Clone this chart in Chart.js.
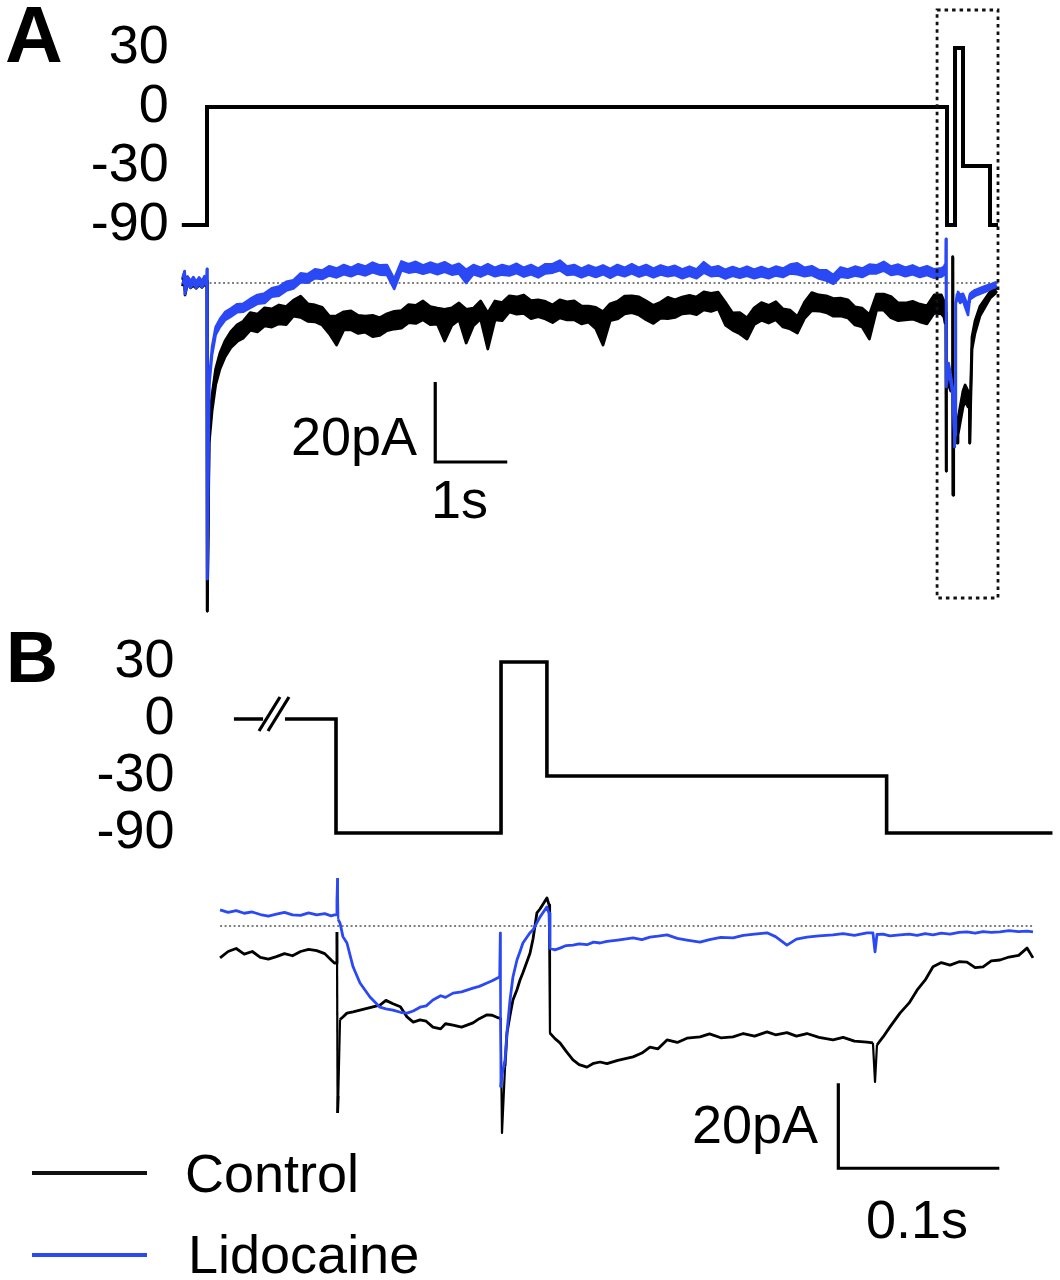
<!DOCTYPE html>
<html>
<head>
<meta charset="utf-8">
<script src="https://cdn.jsdelivr.net/npm/chart.js@4.4.1/dist/chart.umd.min.js"></script>
<style>
html,body{margin:0;padding:0;background:#fff;}
#wrap{position:relative;width:1060px;height:1280px;overflow:hidden;background:#fff;font-family:'Liberation Sans',Arial,Helvetica,sans-serif;color:#000;}
#wrap canvas{position:absolute;left:0;top:0;}
.t{position:absolute;font-size:54px;line-height:54px;white-space:nowrap;}
.p{position:absolute;font-weight:bold;white-space:nowrap;}
.leg{position:absolute;height:4px;width:115px;left:32px;}
#brk{position:absolute;left:0;top:0;}
</style>
</head>
<body>
<div id="wrap">
  <canvas id="aV" width="1060" height="1280"></canvas>
  <canvas id="aI" width="1060" height="1280"></canvas>
  <canvas id="bV" width="1060" height="1280"></canvas>
  <canvas id="bI" width="1060" height="1280"></canvas>
  <svg id="brk" width="1060" height="1280"><line x1="259" y1="731" x2="280" y2="697" stroke="#000" stroke-width="3.2"/><line x1="268" y1="731" x2="289" y2="697" stroke="#000" stroke-width="3.2"/></svg>

  <div class="p" style="left:5px;top:-5px;font-size:80px;line-height:80px;">A</div>
  <div class="p" style="left:6px;top:621px;font-size:72px;line-height:72px;">B</div>

  <div class="t" style="right:643px;top:409px;">20pA</div>
  <div class="t" style="left:431px;top:472px;">1s</div>
  <div class="t" style="right:242px;top:1097px;">20pA</div>
  <div class="t" style="left:866px;top:1192px;">0.1s</div>

  <div class="leg" style="top:1171px;background:#111;"></div>
  <div class="t" style="left:185px;top:1146px;">Control</div>
  <div class="leg" style="top:1253px;background:rgb(43,72,245);"></div>
  <div class="t" style="left:188px;top:1227px;">Lidocaine</div>
</div>

<script>
// ===================== DATA =====================
// Panel A – voltage protocol (time in s, level in mV, schematic levels)
const voltLevels = ['30', '0', '-30', '-90'];
const aVoltTime  = [-0.35, 0, 0, 10.278, 10.278, 10.389, 10.389, 10.5, 10.5, 10.875, 10.875, 10.986];
const aVoltValue = ['-90', '-90', '0', '0', '-90', '-90', '30', '30', '-30', '-30', '-90', '-90'];

// Panel A – currents, shown as max/min envelope per display bin (time in s, current in pA)
const aTime = [
  -0.34, -0.31, -0.305, -0.27, -0.23, -0.19, -0.15, -0.11, -0.07, -0.035, -0.005,
  0, 0.004, 0.03, 0.07, 0.12, 0.18, 0.25, 0.33, 0.42, 0.5,
  0.6, 0.7, 0.8, 0.9, 1.0, 1.1, 1.2, 1.3, 1.4, 1.5,
  1.6, 1.7, 1.8, 1.9, 2.0, 2.1, 2.2, 2.3, 2.4, 2.5,
  2.6, 2.7, 2.8, 2.9, 3.0, 3.1, 3.2, 3.3, 3.4, 3.5,
  3.6, 3.7, 3.8, 3.9, 4.0, 4.1, 4.2, 4.3, 4.4, 4.5,
  4.6, 4.7, 4.8, 4.9, 5.0, 5.1, 5.2, 5.3, 5.4, 5.5,
  5.6, 5.7, 5.8, 5.9, 6.0, 6.1, 6.2, 6.3, 6.4, 6.5,
  6.6, 6.7, 6.8, 6.9, 7.0, 7.1, 7.2, 7.3, 7.4, 7.5,
  7.6, 7.7, 7.8, 7.9, 8.0, 8.1, 8.2, 8.3, 8.4, 8.5,
  8.6, 8.7, 8.8, 8.9, 9.0, 9.1, 9.2, 9.3, 9.4, 9.5,
  9.6, 9.7, 9.8, 9.9, 10.0, 10.1, 10.2,
  10.236, 10.25, 10.262, 10.264, 10.266, 10.27, 10.3, 10.33, 10.355, 10.358,
  10.362, 10.37, 10.385, 10.39, 10.4, 10.417, 10.43, 10.46, 10.5, 10.53,
  10.57, 10.59, 10.594, 10.6, 10.625, 10.667, 10.736, 10.806, 10.875, 10.944, 10.97
];
const aControlMax = [
  0.8, 2.8, -1.8, 1.5, 0.5, 1.0, 0.3, 0.9, 0.2, 1.0, 0.4,
  0.5, -82, -35, -28, -21.5, -17.5, -14.5, -12.2, -10.4, -9.6,
  -7.4, -7.8, -6.2, -6.5, -5.5, -5.9, -4.3, -3.3, -5.2, -5.5,
  -6.1, -8.3, -8.2, -7.2, -7.0, -8.1, -8.3, -8.1, -8.7, -7.7,
  -7.1, -6.9, -5.4, -5.6, -4.5, -5.9, -6.3, -6.6, -6.2, -5.0,
  -6.6, -6.3, -4.5, -7.5, -4.5, -4.9, -3.2, -3.5, -3.0, -4.4,
  -4.2, -4.6, -5.5, -4.2, -4.7, -4.5, -5.7, -5.8, -6.1, -7.2,
  -5.2, -4.6, -3.3, -3.2, -3.5, -4.5, -5.6, -4.8, -3.6, -4.2,
  -3.5, -3.1, -3.5, -2.2, -2.6, -2.3, -4.8, -7.5, -7.4, -8.7,
  -6.2, -4.9, -5.6, -4.7, -6.5, -6.8, -8.4, -4.8, -2.4, -3.0,
  -3.2, -3.9, -3.8, -4.2, -6.0, -6.3, -7.9, -2.8, -2.8, -3.4,
  -5.0, -5.0, -4.6, -5.3, -5.7, -3.0, -3.0,
  -4.5, -5.8, -5.0, -7.5, -47, -22, -21.5, -23, -24.5, 6.5,
  -53, -34, -33, -33.5, -34.5, -36, -34, -31, -27, -25.5,
  -27, -29, -40, -31, -13.5, -9.5, -5.8, -4.0, -2.2, -1.3, -1.0
];
const aControlMin = [
  -0.8, 1.8, -3.0, 0, -1.2, -0.6, -1.3, -0.5, -1.1, -0.4, -0.8,
  0.5, -82, -40, -32, -25.5, -21.5, -18.5, -16.2, -14.6, -13.8,
  -11.8, -12.2, -10.7, -11.0, -10.2, -10.4, -8.3, -8.6, -9.6, -9.7,
  -10.5, -12.7, -15.5, -11.7, -11.7, -12.6, -12.3, -13.4, -13.1, -11.9,
  -11.5, -11.3, -9.9, -10.1, -9.2, -10.4, -10.3, -14.5, -10.6, -9.2,
  -15.0, -10.7, -9.0, -16.5, -9.2, -9.4, -7.2, -7.8, -7.6, -8.9,
  -8.4, -9.0, -9.9, -8.7, -9.2, -9.2, -10.2, -9.8, -11.4, -15.5,
  -9.4, -9.0, -7.7, -7.4, -8.0, -9.2, -10.1, -8.8, -8.9, -8.6,
  -7.7, -7.5, -7.9, -6.7, -7.1, -6.5, -10.5, -11.8, -12.7, -14.0,
  -10.4, -9.3, -10.0, -9.2, -11.0, -11.5, -12.5, -8.8, -6.9, -7.0,
  -7.4, -8.3, -8.2, -8.7, -10.5, -11.0, -14.0, -6.8, -6.8, -8.7,
  -9.4, -9.2, -9.0, -9.7, -10.2, -7.5, -7.7,
  -8.5, -10, -9, -7.5, -47, -26, -25.5, -27, -27, 6.5,
  -53, -38, -37, -37.5, -38.5, -40, -38, -35, -31, -29.5,
  -31, -31, -40, -35, -16.5, -12.5, -8.2, -6.0, -3.8, -2.7, -2.0
];
const aLidocaineMax = [
  1.3, 3.0, -1.2, 1.6, 0.4, 1.5, 0.3, 1.4, 0.5, 1.7, 1.0,
  3.5, -74, -24, -16, -11, -9, -7.3, -6.4, -5.3, -5.2,
  -4.0, -3.0, -2.6, -1.3, -0.9, 0.3, 0.7, 2.4, 2.2, 3.4,
  3.1, 4.2, 3.6, 4.5, 3.8, 4.7, 4.1, 5.1, 4.4, 4.5,
  1.0, 5.4, 4.7, 5.3, 4.4, 5.1, 4.5, 5.2, 4.2, 4.8,
  3.3, 4.5, 3.8, 4.7, 3.8, 4.5, 4.0, 4.8, 3.8, 4.5,
  3.6, 4.7, 4.7, 5.6, 4.1, 4.5, 3.6, 4.4, 3.7, 4.4,
  3.5, 4.5, 3.8, 4.7, 3.8, 4.5, 3.6, 4.4, 3.8, 4.3,
  3.4, 4.1, 3.4, 5.2, 3.8, 4.2, 3.3, 4.0, 3.4, 4.1,
  3.3, 4.0, 3.3, 4.1, 3.6, 4.6, 4.9, 3.8, 4.2, 3.2,
  3.2, 2.0, 3.9, 3.4, 4.1, 3.6, 4.6, 4.4, 5.3, 4.1,
  4.6, 3.8, 4.4, 3.6, 4.2, 3.4, 3.7,
  4.0, 4.6, 4.4, 11, -10, -24, -20, -23, -26, -28.5,
  -30.5, -32, -41, -38, -5, -2.8, -2.2, -3, -2.7, -4,
  -6, -3.2, -3, -2.7, -2.3, -1.8, -1.3, -0.8, -0.4, 0.1, 0.2
];
const aLidocaineMin = [
  -0.3, 1.4, -2.8, 0, -1.2, -0.1, -1.3, -0.2, -1.1, 0.1, -0.6,
  3.5, -74, -26, -18, -13, -11, -9.3, -8.4, -7.3, -7.2,
  -6.2, -5.2, -5.0, -3.4, -3.2, -1.9, -1.4, 0.2, 0.1, 1.2,
  1.0, 1.9, 1.4, 2.2, 1.7, 2.4, 1.9, 2.7, 2.1, 2.0,
  -1.5, 3.2, 2.6, 2.9, 2.3, 2.8, 2.2, 2.8, 2.1, 2.4,
  0.0, 2.2, 1.6, 2.4, 1.7, 2.1, 1.9, 2.5, 1.6, 2.2,
  1.4, 2.4, 2.6, 3.2, 2.0, 2.2, 1.4, 2.1, 1.5, 2.2,
  1.3, 2.2, 1.7, 2.4, 1.6, 2.2, 1.4, 2.1, 1.7, 2.0,
  1.2, 1.8, 1.2, 2.6, 1.7, 1.9, 1.1, 1.8, 1.3, 1.8,
  1.2, 1.7, 1.2, 1.9, 1.5, 2.4, 2.2, 1.7, 2.0, 1.1,
  0.6, -0.2, 1.6, 1.3, 1.9, 1.5, 2.4, 2.4, 3.1, 2.0,
  2.3, 1.7, 2.2, 1.5, 2.0, 1.3, 1.6,
  2.0, 2.6, 2.4, 11, -10, -26, -22, -25, -28, -29.5,
  -31.5, -34, -41, -38, -5, -4.2, -3.8, -5, -4.3, -6,
  -8, -4.8, -4.2, -4.1, -3.7, -3.2, -2.7, -2.2, -1.6, -1.1, -0.8
];
const aBaselineSpan = [-0.34, 10.99];          // s, zero-current reference
const aZoomWindow = [10.14, 10.986];            // s, region expanded in panel B
const aScaleBar = {t: 3.17, pA: -44.75, dt: 1, dpA: 20};   // 1 s, 20 pA

// Panel B – voltage protocol (time in ms)
const bVoltTime  = [-63.4, -45.3, -38, -31.7, 0, 0, 102.5, 102.5, 131, 131, 342, 342, 445];
const bVoltValue = ['0', '0', null, '0', '0', '-90', '-90', '30', '30', '-30', '-30', '-90', '-90'];

// Panel B – currents (time in ms, current in pA)
const bTime = [
  -72, -67, -62, -57, -52, -47, -42, -37, -32, -27, -22, -17, -12, -7, -3, -1,
  0, 0.6, 1.0, 1.4, 2.5, 4.3, 6.8, 10.6, 14.9, 21.1, 27.3, 31, 35.4, 40,
  44.1, 48, 52.2, 56, 60.2, 65, 68, 72.7, 78, 85.1, 89, 93.8, 97, 100.6,
  101.5, 101.9, 102.3, 103.1, 105, 106.2, 108.1, 109.9, 112.4, 114.3,
  116.1, 120.5, 122.4, 124.8, 126.7, 131, 132.3, 132.9,
  136, 139.1, 143, 147.2, 151, 155.9, 160, 164, 168.3, 175,
  184.5, 190, 195, 200, 205.6, 212, 218, 226.1, 232, 239,
  246.6, 253, 260, 267.7, 273, 280.1, 286, 292.5, 300, 308.7,
  315, 322, 329.8, 333.5, 334.8, 336, 339.8, 344, 350.3, 356,
  360.9, 366, 370.8, 376, 381.4, 387, 391.9, 397, 401.9, 407,
  412.4, 418, 424, 429.2, 432.9
];
const bControl = [
  -7.5, -6.0, -5.3, -6.6, -6.0, -7.4, -7.8, -7.2, -6.5, -7.0, -6.0, -5.5, -5.8, -6.5, -8.0, -8.7,
  -8.7, -1.4, -44, -40, -22, -21.4, -20.5, -20.2, -19.8, -19.2, -18.6, -17.5, -18.3, -19,
  -21.4, -22.6, -22.1, -22.4, -23.8, -24.2, -23, -23.3, -23.8, -22.8, -21.8, -20.9, -21, -21.6,
  -21.6, -21.8, -22, -48.7, -33, -25.2, -21, -17.4, -15, -12.7,
  -11, -6.4, -3, 3.1, 4, 6.6, 5, -25.2,
  -26.5, -27.5, -29.5, -31.5, -32.6, -33.2, -32.3, -32, -32.4, -31.6,
  -30.8, -29.9, -28.5, -28.9, -26.8, -27.4, -26.4, -26.1, -25.4, -26.3,
  -26.1, -25.3, -25.9, -24.9, -25.6, -25.1, -25.9, -25.3, -26.2, -26.8,
  -26.2, -27.1, -27.3, -27.5, -36.7, -28, -26.1, -23.8, -20.5, -18.1,
  -15.1, -12.7, -9.6, -8.6, -9.2, -8.4, -8.5, -9.8, -9.6, -8.2,
  -8, -7.3, -6.9, -5.2, -7.5
];
const bLidocaine = [
  3.8, 3.2, 3.6, 3.0, 3.3, 2.7, 2.3, 2.8, 3.2, 2.6, 2.5, 3.1, 2.6, 2.9, 2.4, 2.6,
  2.6, 6, 11.3, 1.5, 0.7, -2.5, -4, -9.6, -13.4, -16.7, -19.1, -19.5, -19.8, -20.3,
  -20.5, -20, -19.1, -18.8, -17.4, -16.4, -16.8, -15.8, -15.5, -14.6, -14.2, -13.4, -12.9, -12.2,
  -12, -1.6, -37.9, -35, -31.5, -25, -17.4, -12, -8, -6,
  -4, -1.6, -0.9, 0.8, 2.1, 4.5, 3, -5.2,
  -5.6, -5.2, -4.6, -4.5, -4.2, -4.4, -3.8, -4, -3.6, -3.3,
  -2.8, -3.2, -2.6, -2.4, -2.1, -2.9, -3.3, -3.8, -3.2, -2.7,
  -2.8, -2.2, -1.9, -1.6, -2.5, -4.5, -3.1, -2.6, -2.3, -2.1,
  -1.8, -2.2, -1.6, -1.6, -6.1, -2, -1.9, -2.3, -2.1, -1.9,
  -2.2, -1.8, -2.1, -1.7, -1.9, -1.5, -1.4, -1.7, -1.3, -1.5,
  -1.4, -1.1, -1.3, -1.2, -1.4
];
const bBaselineSpan = [-72, 433];               // ms
const bScaleBar = {t: 312, pA: -57, dt: 100, dpA: 20};     // 0.1 s, 20 pA

// ===================== LAYOUT (pixels) =====================
const W = 1060, H = 1280;
const LA = {x0: 207, pxPerX: 72, xMin: -0.35, xMax: 11.0,
            vTop: 48, vBottom: 225, tickPad: 13, vWidth: 4,
            y0: 283, pxPerY: 4, yMin: -83, yMax: 12,
            ctrlEdgeW: 2.8, lidoEdgeW: 2.6, boxTop: 10, boxBottom: 598};
const LB = {x0: 336, pxPerX: 1.61, xMin: -73, xMax: 445,
            vTop: 662, vBottom: 833, tickPad: 44, vWidth: 3.6,
            y0: 926, pxPerY: 4.25, yMin: -58, yMax: 13,
            traceW: 2.8, spikeW: 2.2};

const FONT = "'Liberation Sans', Arial, Helvetica, sans-serif";
const BLUE = 'rgb(43,72,245)';
const BLACK = '#000';

function xEdges(L) {
  return {left: L.x0 + L.xMin * L.pxPerX, right: L.x0 + L.xMax * L.pxPerX};
}
function pairs(xs, ys) { return xs.map((x, i) => ({x: x, y: ys[i]})); }
function scaleBarPts(s) {
  return [{x: s.t, y: s.pA + s.dpA}, {x: s.t, y: s.pA}, {x: s.t + s.dt, y: s.pA}];
}
function segWidth(thick, thin) {
  return (ctx) => {
    const dx = Math.abs(ctx.p1.x - ctx.p0.x), dy = Math.abs(ctx.p1.y - ctx.p0.y);
    return (dy > 36 && dy > 5 * dx) ? thin : thick;
  };
}
const commonOpts = {
  responsive: false, maintainAspectRatio: false, devicePixelRatio: 1,
  animation: false, events: [],
  plugins: {legend: {display: false}, tooltip: {enabled: false}},
  elements: {point: {radius: 0}, line: {tension: 0}}
};
function currentPadding(L) {
  const e = xEdges(L);
  return {left: e.left, right: W - e.right,
          top: L.y0 - L.yMax * L.pxPerY, bottom: H - (L.y0 - L.yMin * L.pxPerY)};
}
function currentScales(L) {
  return {x: {type: 'linear', min: L.xMin, max: L.xMax, display: false},
          y: {type: 'linear', min: L.yMin, max: L.yMax, display: false}};
}
function baselineDs(span) {
  return {label: 'baseline', data: [{x: span[0], y: 0}, {x: span[1], y: 0}],
          borderColor: '#555', borderWidth: 1.6, borderDash: [2, 2.5], order: 5, clip: false};
}
function scaleBarDs(bar) {
  return {label: 'scale', data: scaleBarPts(bar), borderColor: BLACK, borderWidth: 3.2,
          borderJoinStyle: 'miter', borderCapStyle: 'butt', order: 6, clip: false};
}

function voltageChart(id, L, times, values) {
  const e = xEdges(L);
  return new Chart(document.getElementById(id), {
    type: 'line',
    data: {datasets: [{
      data: pairs(times, values), borderColor: BLACK, borderWidth: L.vWidth,
      borderJoinStyle: 'miter', borderCapStyle: 'butt', spanGaps: false, clip: false
    }]},
    options: Object.assign({}, commonOpts, {
      layout: {padding: {left: 0, right: W - e.right, top: L.vTop, bottom: H - L.vBottom}},
      scales: {
        x: {type: 'linear', min: L.xMin, max: L.xMax, display: false},
        y: {type: 'category', labels: voltLevels, offset: false, position: 'left',
            grid: {display: false, drawTicks: false}, border: {display: false},
            ticks: {autoSkip: false, padding: L.tickPad, color: '#000',
                    font: {family: FONT, size: 54, lineHeight: 1}},
            afterFit: (axis) => { axis.width = e.left; }}
      }
    })
  });
}

const zoomBoxPlugin = {
  id: 'zoomBox',
  afterDatasetsDraw(chart) {
    const xs = chart.scales.x, ctx = chart.ctx;
    const x1 = xs.getPixelForValue(aZoomWindow[0]), x2 = xs.getPixelForValue(aZoomWindow[1]);
    ctx.save();
    ctx.setLineDash([3.5, 4]);
    ctx.lineWidth = 2.8;
    ctx.strokeStyle = '#111';
    ctx.strokeRect(x1, LA.boxTop, x2 - x1, LA.boxBottom - LA.boxTop);
    ctx.restore();
  }
};

// Panel A currents: envelope bands (max filled down to min)
function bandPair(label, times, hi, lo, color, order, w) {
  return [
    {label: label, data: pairs(times, hi), borderColor: color, backgroundColor: color,
     borderWidth: w, borderJoinStyle: 'round', fill: '+1', order: order, clip: false},
    {label: label + ' min', data: pairs(times, lo), borderColor: color,
     borderWidth: w, borderJoinStyle: 'round', fill: false, order: order, clip: false}
  ];
}

voltageChart('aV', LA, aVoltTime, aVoltValue);

new Chart(document.getElementById('aI'), {
  type: 'line',
  data: {datasets: [].concat(
    bandPair('Lidocaine', aTime, aLidocaineMax, aLidocaineMin, BLUE, 0, LA.lidoEdgeW),
    bandPair('Control', aTime, aControlMax, aControlMin, BLACK, 1, LA.ctrlEdgeW),
    [baselineDs(aBaselineSpan), scaleBarDs(aScaleBar)]
  )},
  options: Object.assign({}, commonOpts, {
    layout: {padding: currentPadding(LA)},
    scales: currentScales(LA),
    plugins: {legend: {display: false}, tooltip: {enabled: false},
              filler: {propagate: false, drawTime: 'beforeDatasetDraw'}}
  }),
  plugins: [zoomBoxPlugin]
});

voltageChart('bV', LB, bVoltTime, bVoltValue);

new Chart(document.getElementById('bI'), {
  type: 'line',
  data: {datasets: [
    {label: 'Lidocaine', data: pairs(bTime, bLidocaine), borderColor: BLUE, borderWidth: LB.traceW,
     borderJoinStyle: 'round', order: 0, clip: false, segment: {borderWidth: segWidth(LB.traceW, LB.spikeW)}},
    {label: 'Control', data: pairs(bTime, bControl), borderColor: BLACK, borderWidth: LB.traceW,
     borderJoinStyle: 'round', order: 1, clip: false, segment: {borderWidth: segWidth(LB.traceW, LB.spikeW)}},
    baselineDs(bBaselineSpan), scaleBarDs(bScaleBar)
  ]},
  options: Object.assign({}, commonOpts, {
    layout: {padding: currentPadding(LB)},
    scales: currentScales(LB)
  })
});
</script>
</body>
</html>
